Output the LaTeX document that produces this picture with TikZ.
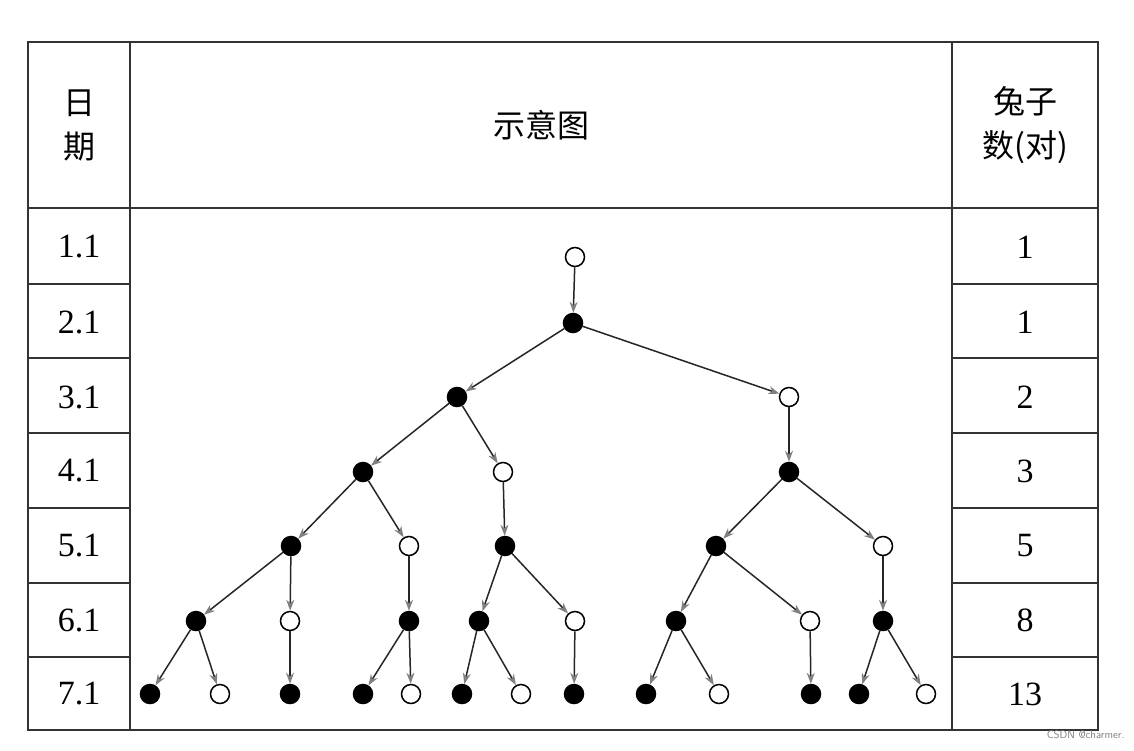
\documentclass[tikz,border=0pt]{standalone}
\usepackage{fontspec}
\setmainfont{Liberation Serif}
\newfontfamily\cjk{Noto Sans CJK SC}
\usetikzlibrary{arrows.meta}
\begin{document}
\begin{tikzpicture}[x=1pt,y=-1pt,
  f/.style={circle,draw=black,fill=black,line width=1.5pt,minimum size=19pt,inner sep=0pt},
  o/.style={circle,draw=black,fill=white,line width=1.5pt,minimum size=19pt,inner sep=0pt},
  e/.style={draw=black!85,line width=1.5pt,-{Stealth[length=11pt,width=8pt,color=gray]}},
  lab/.style={font=\fontsize{34}{36}\selectfont},
  hd/.style={font=\cjk\fontsize{32}{44}\selectfont,align=center}]
\useasboundingbox (0,0) rectangle (1134,750);
\fill[white] (0,0) rectangle (1134,750);
\begin{scope}[draw=black!80,line width=1.8pt]
\draw (28,42) rectangle (1098,730);
\draw (130,42) -- (130,730) (952,42) -- (952,730);
\draw (28,208) -- (1098,208);
\foreach \y in {284,358,433,508,583,657} {\draw (28,\y) -- (130,\y) (952,\y) -- (1098,\y);}
\end{scope}
\node[hd] (h1) at (79,125) {日\\期};
\node[hd] (h2) at (541,125) {示意图};
\node[hd] (h3) at (1025,125) {兔子\\数({\rmfamily}对)};
\foreach \t/\n/\y in {1.1/1/247,2.1/1/322,3.1/2/397,4.1/3/471,5.1/5/546,6.1/8/620,7.1/13/694} {
  \node[lab] at (79,\y) {\t};
  \node[lab] at (1025,\y) {\n};
}
% nodes
\node[o] (a) at (575,257) {};
\node[f] (b) at (573,323) {};
\node[f] (c1) at (457,397) {}; \node[o] (c2) at (789,397) {};
\node[f] (d1) at (363,472) {}; \node[o] (d2) at (503,472) {}; \node[f] (d3) at (789,472) {};
\node[f] (e1) at (291,546) {}; \node[o] (e2) at (409,546) {}; \node[f] (e3) at (505,546) {}; \node[f] (e4) at (716,546) {}; \node[o] (e5) at (883,546) {};
\node[f] (g1) at (196,621) {}; \node[o] (g2) at (290,621) {}; \node[f] (g3) at (409,621) {}; \node[f] (g4) at (479,621) {}; \node[o] (g5) at (575,621) {}; \node[f] (g6) at (676,621) {}; \node[o] (g7) at (810,621) {}; \node[f] (g8) at (883,621) {};
\node[f] (k1) at (150,694) {}; \node[o] (k2) at (220,694) {}; \node[f] (k3) at (290,694) {}; \node[f] (k4) at (363,694) {}; \node[o] (k5) at (411,694) {}; \node[f] (k6) at (462,694) {}; \node[o] (k7) at (521,694) {}; \node[f] (k8) at (574,694) {}; \node[f] (k9) at (646,694) {}; \node[o] (k10) at (719,694) {}; \node[f] (k11) at (811,694) {}; \node[f] (k12) at (859,694) {}; \node[o] (k13) at (926,694) {};
\foreach \s/\t in {a/b,b/c1,b/c2,c1/d1,c1/d2,c2/d3,d1/e1,d1/e2,d2/e3,d3/e4,d3/e5,
  e1/g1,e1/g2,e2/g3,e3/g4,e3/g5,e4/g6,e4/g7,e5/g8,
  g1/k1,g1/k2,g2/k3,g3/k4,g3/k5,g4/k6,g4/k7,g5/k8,g6/k9,g6/k10,g7/k11,g8/k12,g8/k13}
  \draw[e] (\s) -- (\t);
\node[font=\sffamily\fontsize{11}{12}\selectfont,text=gray,anchor=east] (wm) at (1128,735) {CSDN @charmer.};
\end{tikzpicture}
\end{document}
